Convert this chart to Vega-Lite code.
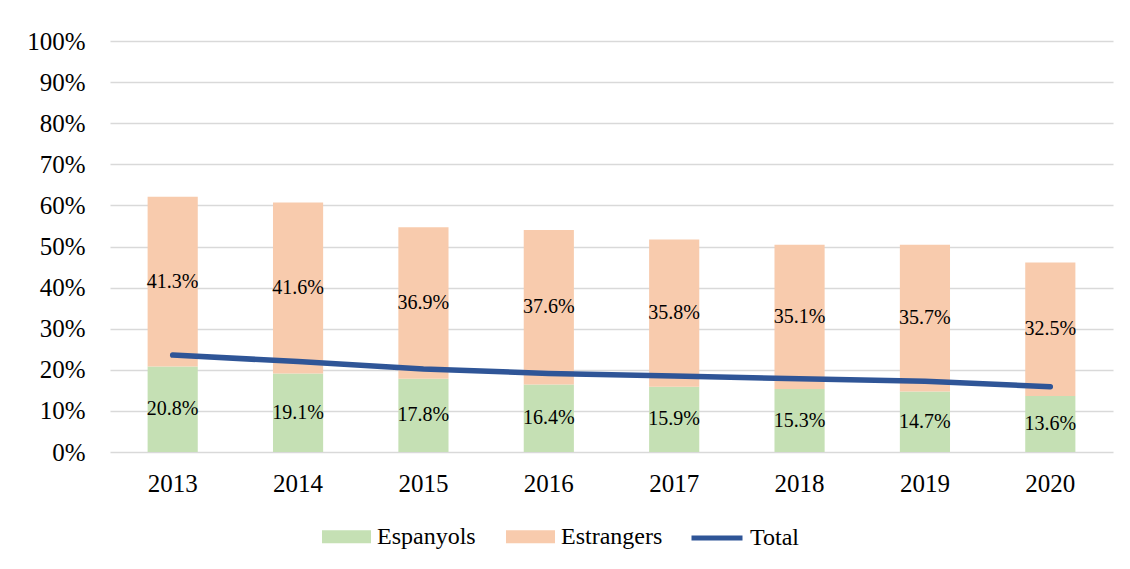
{
  "$schema": "https://vega.github.io/schema/vega-lite/v6.json",
  "width": 1003,
  "height": 411,
  "autosize": {"type": "none"},
  "padding": {"left": 110, "top": 41, "right": 17, "bottom": 117},
  "background": "white",
  "config": {
    "font": "Liberation Serif, Times New Roman, serif",
    "view": {"stroke": null},
    "axis": {"labelFont": "Liberation Serif, Times New Roman, serif"},
    "legend": {"labelFont": "Liberation Serif, Times New Roman, serif"},
    "text": {"font": "Liberation Serif, Times New Roman, serif"}
  },
  "datasets": {
    "shares": [
      {"year": "2013", "group": "Espanyols", "ord": 1, "value": 0.208},
      {"year": "2013", "group": "Estrangers", "ord": 2, "value": 0.413},
      {"year": "2014", "group": "Espanyols", "ord": 1, "value": 0.191},
      {"year": "2014", "group": "Estrangers", "ord": 2, "value": 0.416},
      {"year": "2015", "group": "Espanyols", "ord": 1, "value": 0.178},
      {"year": "2015", "group": "Estrangers", "ord": 2, "value": 0.369},
      {"year": "2016", "group": "Espanyols", "ord": 1, "value": 0.164},
      {"year": "2016", "group": "Estrangers", "ord": 2, "value": 0.376},
      {"year": "2017", "group": "Espanyols", "ord": 1, "value": 0.159},
      {"year": "2017", "group": "Estrangers", "ord": 2, "value": 0.358},
      {"year": "2018", "group": "Espanyols", "ord": 1, "value": 0.153},
      {"year": "2018", "group": "Estrangers", "ord": 2, "value": 0.351},
      {"year": "2019", "group": "Espanyols", "ord": 1, "value": 0.147},
      {"year": "2019", "group": "Estrangers", "ord": 2, "value": 0.357},
      {"year": "2020", "group": "Espanyols", "ord": 1, "value": 0.136},
      {"year": "2020", "group": "Estrangers", "ord": 2, "value": 0.325}
    ],
    "total": [
      {"year": "2013", "series": "Total", "value": 0.236},
      {"year": "2014", "series": "Total", "value": 0.220},
      {"year": "2015", "series": "Total", "value": 0.202},
      {"year": "2016", "series": "Total", "value": 0.191},
      {"year": "2017", "series": "Total", "value": 0.185},
      {"year": "2018", "series": "Total", "value": 0.178},
      {"year": "2019", "series": "Total", "value": 0.172},
      {"year": "2020", "series": "Total", "value": 0.159}
    ]
  },
  "encoding": {
    "x": {
      "field": "year",
      "type": "ordinal",
      "scale": {"paddingInner": 0.6, "paddingOuter": 0.3},
      "axis": {
        "title": null,
        "labelAngle": 0,
        "domain": false,
        "ticks": false,
        "grid": false,
        "labelFont": "Liberation Serif, Times New Roman, serif",
        "labelFontSize": 25,
        "labelColor": "#000000",
        "labelPadding": 19
      }
    }
  },
  "layer": [
    {
      "data": {"name": "shares"},
      "transform": [
        {"stack": "value", "groupby": ["year"], "sort": [{"field": "ord"}], "as": ["v0", "v1"]}
      ],
      "mark": {"type": "bar"},
      "encoding": {
        "y": {
          "field": "v0",
          "type": "quantitative",
          "scale": {"domain": [0, 1]},
          "axis": {
            "title": null,
            "format": ".0%",
            "values": [0, 0.1, 0.2, 0.3, 0.4, 0.5, 0.6, 0.7, 0.8, 0.9, 1],
            "domain": false,
            "ticks": false,
            "grid": true,
            "gridColor": "#D9D9D9",
            "gridWidth": 1.5,
            "labelFont": "Liberation Serif, Times New Roman, serif",
            "labelFontSize": 25,
            "labelColor": "#000000",
            "labelPadding": 25
          }
        },
        "y2": {"field": "v1"},
        "fill": {
          "field": "group",
          "type": "nominal",
          "scale": {"domain": ["Espanyols", "Estrangers"], "range": ["#C5E0B4", "#F8CBAD"]},
          "legend": {
            "title": null,
            "orient": "none",
            "direction": "horizontal",
            "legendX": 212,
            "legendY": 471,
            "symbolType": "M-1,-0.27H1V0.27H-1Z",
            "symbolSize": 2401,
            "symbolStrokeWidth": 0,
            "labelFont": "Liberation Serif, Times New Roman, serif",
            "labelFontSize": 24,
            "labelColor": "#000000",
            "labelOffset": 6,
            "columnPadding": 30
          }
        }
      }
    },
    {
      "data": {"name": "shares"},
      "transform": [
        {"stack": "value", "groupby": ["year"], "sort": [{"field": "ord"}], "as": ["v0", "v1"]},
        {"calculate": "(datum.v0 + datum.v1) / 2", "as": "mid"}
      ],
      "mark": {"type": "text", "fontSize": 20, "color": "#000000", "baseline": "middle", "font": "Liberation Serif, Times New Roman, serif"},
      "encoding": {
        "y": {"field": "mid", "type": "quantitative"},
        "text": {"field": "value", "type": "quantitative", "format": ".1%"}
      }
    },
    {
      "data": {"name": "total"},
      "mark": {"type": "line", "strokeWidth": 5.5, "strokeCap": "round"},
      "encoding": {
        "y": {"field": "value", "type": "quantitative"},
        "stroke": {
          "field": "series",
          "type": "nominal",
          "scale": {"domain": ["Total"], "range": ["#2F5597"]},
          "legend": {
            "title": null,
            "orient": "none",
            "legendX": 579,
            "legendY": 469,
            "symbolType": "stroke",
            "symbolSize": 2601,
            "symbolStrokeWidth": 5,
            "labelFont": "Liberation Serif, Times New Roman, serif",
            "labelFontSize": 24,
            "labelColor": "#000000",
            "labelOffset": 5
          }
        }
      }
    }
  ]
}
